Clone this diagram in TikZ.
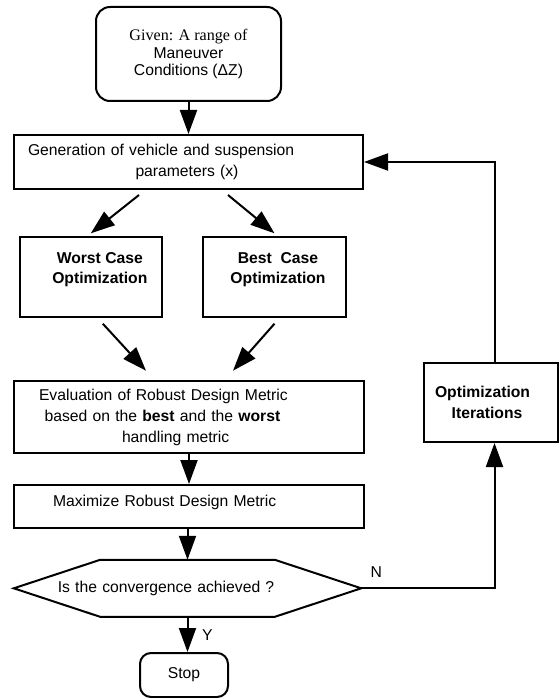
\documentclass[tikz,border=0pt]{standalone}
\usepackage{fontspec}
\setmainfont{Liberation Serif}
\setsansfont{Liberation Sans}
\usetikzlibrary{positioning,arrows.meta}

\begin{document}
\begin{tikzpicture}[x=1pt,y=-1pt,
    font=\sffamily\fontsize{15.7}{21}\selectfont,
    box/.style={draw,rectangle,line width=2pt},
    bold/.style={font=\sffamily\bfseries\fontsize{15.7}{20.5}\selectfont},
    arr/.style={line width=2pt,-{Triangle[length=24pt,width=17pt]}}]
\useasboundingbox (0,0) rectangle (559,698);

\node[box,rounded corners=14pt,minimum width=185pt,minimum height=94pt,align=center,
    font=\sffamily\fontsize{15.7}{17.5}\selectfont] (given) at (188.5,54)
    {{\rmfamily\fontsize{16.1}{17.5}\selectfont Given: A range of}\\Maneuver\\Conditions (ΔZ)};
\node[box,minimum height=54pt,text width=321pt,inner xsep=14pt,align=left] (gen) at (188.5,162)
    {Generation of vehicle and suspension\\\hspace*{107.5pt}parameters (x)};
\node[box,bold,minimum width=142.4pt,minimum height=79.4pt,align=center,text depth=18pt] (worst) at (90.8,277)
    {\hspace*{18pt}Worst Case\\\hspace*{18pt}Optimization};
\node[box,bold,minimum width=143pt,minimum height=79.4pt,align=center,text depth=18pt] (best) at (274.5,277)
    {\hspace*{7pt}Best\ \ Case\\\hspace*{7pt}Optimization};
\node[box,minimum height=72.6pt,text width=300pt,inner xsep=25pt,align=left] (eval) at (189,417)
    {Evaluation of Robust Design Metric\\\hspace*{5.6pt}based on the \textbf{best} and the \textbf{worst}\\\hspace*{83pt}handling metric};
\node[box,minimum height=43pt,text width=300pt,inner xsep=25pt,align=left,text depth=11pt] (max) at (189,506.5)
    {\hspace*{14pt}Maximize Robust Design Metric};
\node[minimum width=347pt,minimum height=56.7pt,text width=259.4pt,inner xsep=43.8pt,align=left] (conv) at (187.5,588.3)
    {Is the convergence achieved ?};
\node[box,rounded corners=11pt,minimum width=88pt,minimum height=44pt] (stop) at (184,675) {Stop};
\node[box,bold,minimum height=79pt,text width=112pt,inner xsep=11pt,align=left] (iter) at (491,402.5)
    {Optimization\\\hspace*{16.7pt}Iterations};

% decision box
\draw[line width=2pt] (conv.west) -- ([xshift=86.5pt]conv.north west) -- ([xshift=-86.5pt]conv.north east)
    -- (conv.east) -- ([xshift=-86.5pt]conv.south east) -- ([xshift=86.5pt]conv.south west) -- cycle;

\draw[arr] (given) -- (gen);
\draw[arr] ([xshift=-49.5pt,yshift=-5pt]gen.south) -- ([yshift=3pt]worst.north);
\draw[arr] ([xshift=39.5pt,yshift=-5pt]gen.south) -- ([yshift=3pt]best.north);
\draw[arr] ([xshift=12pt,yshift=-6pt]worst.south) -- ([xshift=-43pt,yshift=9pt]eval.north);
\draw[arr] ([yshift=-6pt]best.south) -- ([xshift=44pt,yshift=9pt]eval.north);
\draw[arr] (eval) -- (max);
\draw[arr] (max.south -| conv) -- (conv.north);
\draw[arr] (conv.south) -- (conv.south |- stop.north);
\draw[arr] (conv.east) -| ([xshift=3.5pt]iter.south);
\draw[arr] ([xshift=3.5pt]iter.north) |- (gen.east);
\node[above right=7pt and 6pt of conv.east] (no) {N};
\node[below right=9pt and 11pt of conv.south] (yes) {Y};
\end{tikzpicture}
\end{document}
